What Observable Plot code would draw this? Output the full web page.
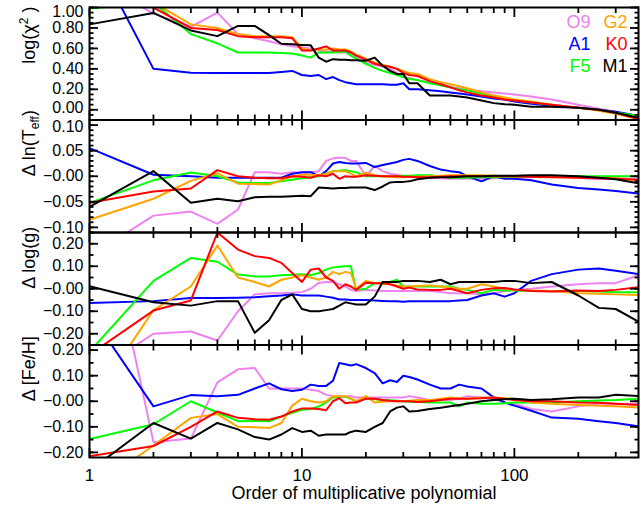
<!DOCTYPE html>
<html><head><meta charset="utf-8">
<script src="https://cdn.jsdelivr.net/npm/d3@7"></script>
<script src="https://cdn.jsdelivr.net/npm/@observablehq/plot@0.6"></script>
<style>
body{margin:0;background:#fff;}
#chart{position:relative;width:643px;height:510px;}
#chart svg{position:absolute;left:0;top:0;}
</style></head><body><div id="chart"></div>
<script>
// Polynomial orders (x)
const orders = [1,2,3,4,5,6,7,8,9,10,11,12,13,14,15,16,17,18,20,22,24,26,28,30,32,35,40,45,50,55,60,70,80,90,100,120,150,200,250,300,384];
const stars = ["O9","A1","F5","G2","K0","M1"];
const starColors = ["#ee82ee","#0000ff","#00ff00","#ffa500","#ff0000","#000000"];

// Panel 1: log(chi^2)
const chiO9 = [1.30,0.94,0.81,0.95,0.74,0.70,0.67,0.64,0.62,0.61,0.60,0.58,0.57,0.57,0.56,0.56,0.54,0.51,0.46,0.44,0.42,0.40,0.36,0.32,0.31,0.29,0.27,0.24,0.22,0.21,0.20,0.18,0.17,0.16,0.15,0.13,0.10,0.05,0.01,-0.02,-0.07];
const chiA1 = [1.60,0.40,0.363,0.36,0.36,0.36,0.36,0.37,0.38,0.34,0.33,0.34,0.30,0.32,0.29,0.27,0.26,0.25,0.25,0.25,0.25,0.245,0.245,0.26,0.20,0.20,0.19,0.18,0.17,0.16,0.15,0.13,0.11,0.10,0.08,0.06,0.04,0.02,0.0,-0.02,-0.06];
const chiF5 = [0.99,1.05,0.74,0.65,0.56,0.56,0.56,0.555,0.55,0.53,0.51,0.56,0.56,0.56,0.565,0.57,0.53,0.50,0.45,0.41,0.38,0.36,0.34,0.32,0.30,0.29,0.26,0.24,0.22,0.20,0.19,0.16,0.13,0.11,0.09,0.07,0.05,0.02,0.0,-0.03,-0.06];
const chiG2 = [1.30,1.05,0.835,0.80,0.74,0.72,0.72,0.72,0.71,0.60,0.58,0.59,0.59,0.60,0.59,0.59,0.57,0.54,0.50,0.46,0.44,0.42,0.40,0.38,0.36,0.35,0.30,0.27,0.25,0.23,0.21,0.17,0.14,0.12,0.10,0.08,0.05,0.02,-0.01,-0.04,-0.09];
const chiK0 = [1.20,1.00,0.80,0.78,0.72,0.71,0.71,0.71,0.70,0.58,0.58,0.60,0.62,0.58,0.58,0.58,0.56,0.53,0.49,0.45,0.43,0.42,0.40,0.36,0.34,0.33,0.28,0.25,0.22,0.19,0.17,0.14,0.12,0.10,0.09,0.07,0.05,0.02,0.0,-0.03,-0.09];
const chiM1 = [0.835,0.947,0.776,0.72,0.82,0.82,0.73,0.645,0.64,0.634,0.63,0.51,0.47,0.495,0.49,0.49,0.485,0.485,0.48,0.51,0.43,0.38,0.35,0.35,0.26,0.26,0.14,0.14,0.14,0.13,0.12,0.09,0.065,0.055,0.05,0.03,0.03,0.02,0.0,-0.03,-0.08];

// Panel 2: delta ln(Teff)
const teffO9 = [-0.157,-0.077,-0.069,-0.093,-0.065,0.008,0.008,0.005,0.008,0.007,0.008,0.01,0.03,0.035,0.036,0.036,0.03,0.03,0.0,0.02,0.01,0.005,0.003,0.0,-0.001,-0.002,-0.003,-0.004,-0.005,-0.005,-0.005,-0.005,-0.004,-0.003,-0.003,-0.002,0.0,-0.003,-0.006,-0.004,-0.006];
const teffA1 = [0.055,0.003,0.0,-0.003,-0.003,-0.003,-0.003,-0.003,0.005,0.008,0.008,0.0,0.01,0.025,0.028,0.026,0.025,0.025,0.026,0.018,0.022,0.025,0.028,0.032,0.034,0.03,0.02,0.013,0.01,0.008,0.0,-0.01,0.0,-0.005,-0.005,-0.008,-0.016,-0.023,-0.026,-0.029,-0.034];
const teffF5 = [-0.052,-0.008,0.0075,0.0,-0.012,-0.013,-0.013,-0.01,-0.007,-0.004,-0.002,0.0,0.005,0.01,0.011,0.012,0.01,0.008,0.0,0.0,0.0,0.0,0.0,0.001,0.001,0.002,0.002,0.0,-0.003,-0.003,-0.003,-0.002,-0.002,-0.001,-0.001,0.0,0.0,0.0,0.0,0.0,0.0];
const teffG2 = [-0.085,-0.044,-0.009,0.006,-0.0145,-0.015,-0.016,-0.008,0.0,0.003,0.003,0.002,0.005,0.01,0.01,0.01,0.005,0.0,0.007,0.002,0.0,-0.001,-0.002,-0.002,-0.001,-0.001,0.0,0.001,0.002,0.002,0.002,0.002,0.001,0.0,0.0,-0.001,-0.001,-0.002,-0.003,-0.004,-0.008];
const teffK0 = [-0.052,-0.03,-0.024,0.012,0.0,-0.003,-0.004,-0.004,0.0,-0.001,-0.003,0.002,0.0,0.005,-0.005,0.0,-0.001,-0.001,0.002,0.001,0.0,0.0,0.0,-0.001,-0.001,-0.002,-0.002,-0.001,0.0,0.0,0.0,0.0,0.0,0.0,0.0,-0.001,-0.002,-0.003,-0.004,-0.005,-0.007];
const teffM1 = [-0.06,0.01,-0.052,-0.044,-0.049,-0.041,-0.040,-0.040,-0.039,-0.038,-0.039,-0.022,-0.023,-0.024,-0.023,-0.023,-0.022,-0.022,-0.022,-0.027,-0.02,-0.012,-0.011,-0.011,-0.01,-0.006,-0.003,-0.002,-0.002,-0.001,0.0,0.0,0.001,0.001,0.001,0.002,0.002,0.0,-0.003,-0.006,-0.014];

// Panel 3: delta log(g)
const loggO9 = [-0.385,-0.20,-0.19,-0.23,-0.10,-0.025,-0.02,-0.02,-0.018,-0.015,0.0,0.026,0.03,0.03,0.02,0.01,-0.005,-0.01,-0.005,-0.008,-0.01,-0.01,-0.01,-0.01,-0.01,-0.01,-0.01,-0.015,-0.02,-0.02,-0.02,-0.025,-0.02,-0.01,-0.005,0.0,0.01,0.02,0.025,0.025,0.06];
const loggA1 = [-0.063,-0.055,-0.041,-0.041,-0.04,-0.038,-0.033,-0.03,-0.025,-0.03,-0.03,-0.03,-0.035,-0.04,-0.048,-0.048,-0.05,-0.05,-0.05,-0.052,-0.054,-0.056,-0.056,-0.058,-0.056,-0.055,-0.055,-0.055,-0.055,-0.052,-0.05,-0.03,-0.02,-0.035,-0.02,0.035,0.065,0.085,0.09,0.08,0.065];
const loggF5 = [-0.28,0.035,0.137,0.12,0.063,0.055,0.055,0.06,0.062,0.065,0.06,0.07,0.085,0.095,0.098,0.1,0.1,-0.005,0.0,0.025,0.028,0.03,0.04,0.01,0.01,0.01,0.01,0.01,0.01,0.0,-0.005,-0.02,-0.005,-0.008,-0.008,-0.01,-0.01,-0.01,-0.012,-0.015,-0.015];
const loggG2 = [-0.52,-0.095,0.01,0.192,0.05,0.03,0.01,0.04,0.05,0.06,0.05,0.04,0.05,0.075,0.065,0.075,0.07,0.0,0.035,0.025,0.02,0.02,0.015,0.01,0.01,0.012,0.015,0.01,0.005,0.0,0.0,0.02,0.01,0.0,-0.005,-0.008,-0.01,-0.02,-0.022,-0.025,-0.028];
const loggK0 = [-0.293,-0.097,-0.052,0.25,0.174,0.145,0.137,0.115,0.07,0.03,0.085,0.09,0.05,0.035,0.0,0.02,0.01,-0.005,0.027,0.025,0.025,0.02,0.01,0.0,0.005,-0.003,-0.005,-0.005,0.0,-0.01,-0.02,-0.005,0.002,0.003,-0.003,-0.01,-0.012,-0.008,-0.01,-0.005,0.007];
const loggM1 = [0.011,-0.06,-0.075,-0.055,-0.055,-0.196,-0.14,-0.05,-0.025,-0.09,-0.1,-0.1,-0.095,-0.09,-0.075,-0.06,-0.065,-0.07,-0.07,-0.035,0.03,0.03,0.03,0.035,0.035,0.035,0.03,0.04,0.02,0.03,0.03,0.03,0.03,0.035,0.035,0.025,0.03,-0.03,-0.085,-0.09,-0.146];

// Panel 4: delta [Fe/H]
const fehO9 = [1.0,-0.16,-0.146,0.074,0.125,0.13,0.05,0.05,0.05,0.05,0.045,0.04,0.025,0.02,0.02,0.02,0.02,0.015,0.015,0.015,0.015,0.015,0.015,0.015,0.02,0.015,0.005,0.005,0.005,0.01,0.02,0.015,0.01,-0.005,-0.01,-0.03,-0.04,-0.02,-0.01,-0.01,-0.01];
const fehA1 = [0.347,-0.02,0.024,0.02,0.025,0.05,0.07,0.047,0.04,0.045,0.065,0.06,0.06,0.08,0.15,0.145,0.14,0.145,0.13,0.11,0.07,0.082,0.075,0.1,0.095,0.085,0.065,0.05,0.05,0.065,0.058,0.05,0.015,-0.005,-0.017,-0.037,-0.064,-0.068,-0.078,-0.085,-0.098];
const fehF5 = [-0.148,-0.09,0.0,-0.044,-0.078,-0.077,-0.078,-0.06,-0.045,-0.033,-0.03,-0.02,-0.005,0.015,0.018,0.018,0.01,0.0,0.01,0.008,0.005,0.004,0.002,0.0,-0.002,-0.003,-0.005,-0.005,-0.005,-0.02,-0.005,-0.01,-0.01,-0.008,-0.005,-0.005,-0.005,0.0,0.003,0.005,0.01];
const fehG2 = [-0.35,-0.173,-0.065,-0.05,-0.10,-0.102,-0.105,-0.085,-0.017,0.01,0.0,-0.005,0.0,0.02,0.02,0.02,0.01,0.0,0.02,-0.005,-0.002,0.0,0.0,0.0,0.002,0.005,0.005,0.01,0.015,0.012,0.01,0.015,0.015,0.012,0.01,-0.005,-0.01,-0.015,-0.018,-0.02,-0.025];
const fehK0 = [-0.215,-0.175,-0.10,-0.04,-0.065,-0.07,-0.072,-0.06,-0.04,-0.028,-0.028,-0.03,-0.035,0.0,0.012,-0.008,-0.005,-0.005,0.01,0.01,0.005,0.002,0.0,0.0,0.0,-0.003,0.0,0.005,0.01,0.01,0.01,0.012,0.015,0.01,0.005,0.0,0.0,-0.005,-0.006,-0.01,-0.015];
const fehM1 = [-0.272,-0.085,-0.146,-0.085,-0.11,-0.14,-0.15,-0.13,-0.105,-0.12,-0.115,-0.135,-0.13,-0.13,-0.13,-0.13,-0.12,-0.115,-0.12,-0.10,-0.085,-0.04,-0.025,-0.02,-0.04,-0.038,-0.03,-0.025,-0.02,-0.015,-0.01,0.0,0.005,0.008,0.01,0.005,0.008,0.015,0.015,0.025,0.02];

// Tick values and labels
const xMajor = [1,10,100];
const xMinor = [2,3,4,5,6,7,8,9,20,30,40,50,60,70,80,90,200,300];
const xTickLabels = ["1","10","100"];
const chiTicks = [0,0.2,0.4,0.6,0.8,1.0];
const chiTickLabels = ["0.00","0.20","0.40","0.60","0.80","1.00"];
const teffTicks = [-0.10,-0.05,0,0.05,0.10];
const teffTickLabels = ["\u22120.10","\u22120.05","\u22120.00","0.05","0.10"];
const loggTicks = [-0.2,-0.1,0,0.1,0.2];
const loggTickLabels = ["\u22120.20","\u22120.10","\u22120.00","0.10","0.20"];
const fehTicks = [-0.2,-0.1,0,0.1,0.2];
const fehTickLabels = ["\u22120.20","\u22120.10","\u22120.00","0.10","0.20"];
const legendNames = ["O9","G2","A1","K0","F5","M1"];
const legendColors = ["#ee82ee","#ffa500","#0000ff","#ff0000","#00ff00","#000000"];

const W = 643, H = 510, FRAME_L = 89, FRAME_R = 638, TOP = 7, PANEL_H = 112.5;
const FONT = "'Liberation Sans', Arial, Helvetica, sans-serif";
const TICK_FONT = 16;

const panels = [
  {label: "log(\u03c7\u00b2 )", domain: [-0.1, 1.0], series: [chiO9,chiA1,chiF5,chiG2,chiK0,chiM1], ticks: chiTicks, tickLabels: chiTickLabels, minor: d3.range(-0.1, 1.0001, 0.05), firstDy: -1.5, lastDy: 4},
  {label: "\u0394 ln(Teff)", domain: [-0.11, 0.11], series: [teffO9,teffA1,teffF5,teffG2,teffK0,teffM1], ticks: teffTicks, tickLabels: teffTickLabels, minor: d3.range(-0.11, 0.1101, 0.01), firstDy: 0, lastDy: 1.5},
  {label: "\u0394 log(g)", domain: [-0.25, 0.25], series: [loggO9,loggA1,loggF5,loggG2,loggK0,loggM1], ticks: loggTicks, tickLabels: loggTickLabels, minor: d3.range(-0.25, 0.2501, 0.05), firstDy: 0, lastDy: 0},
  {label: "\u0394 [Fe/H]", domain: [-0.22, 0.22], series: [fehO9,fehA1,fehF5,fehG2,fehK0,fehM1], ticks: fehTicks, tickLabels: fehTickLabels, minor: d3.range(-0.2, 0.2001, 0.05), firstDy: 0, lastDy: 0}
];

const chart = document.getElementById("chart");

panels.forEach((p, pi) => {
  const top = TOP + PANEL_H * pi;
  const bottom = top + PANEL_H;
  const rows = [];
  p.series.forEach((vals, si) => vals.forEach((v, i) => rows.push({order: orders[i], value: v, star: stars[si]})));
  const labelMap = new Map(p.ticks.map((t, i) => [t, p.tickLabels[i]]));
  const blank = () => "";
  const n = p.ticks.length;
  const labelAxis = (ticks, dy) => Plot.axisY({anchor: "left", ticks, tickSize: 0, tickPadding: 6, dy, tickFormat: d => labelMap.get(d), fontSize: TICK_FONT, label: null});
  const marks = [
    Plot.line(rows, {x: "order", y: "value", z: "star", stroke: "star", strokeWidth: 2, clip: true}),
    Plot.frame({stroke: "#000", strokeWidth: 2}),
    Plot.axisX({anchor: "bottom", ticks: xMajor, tickSize: -9, tickFormat: blank, strokeWidth: 1.8, label: null}),
    Plot.axisX({anchor: "bottom", ticks: xMinor, tickSize: -5, tickFormat: blank, strokeWidth: 1.8, label: null}),
    Plot.axisX({anchor: "top", ticks: xMajor, tickSize: -9, tickFormat: blank, strokeWidth: 1.8, label: null}),
    Plot.axisX({anchor: "top", ticks: xMinor, tickSize: -5, tickFormat: blank, strokeWidth: 1.8, label: null}),
    Plot.axisY({anchor: "left", ticks: p.ticks, tickSize: -9, tickFormat: blank, strokeWidth: 1.8, label: null}),
    Plot.axisY({anchor: "left", ticks: p.minor, tickSize: -4.5, tickFormat: blank, strokeWidth: 1.8, label: null}),
    Plot.axisY({anchor: "right", ticks: p.ticks, tickSize: -9, tickFormat: blank, strokeWidth: 1.8, label: null}),
    Plot.axisY({anchor: "right", ticks: p.minor, tickSize: -4.5, tickFormat: blank, strokeWidth: 1.8, label: null}),
    labelAxis(p.ticks.slice(1, n - 1), 0),
    labelAxis([p.ticks[0]], p.firstDy),
    labelAxis([p.ticks[n - 1]], p.lastDy),
    Plot.text([p.label], {frameAnchor: "left", dx: -60, rotate: -90, text: d => d, fontSize: 18, fill: "#000"})
  ];
  if (pi === 0) {
    legendNames.forEach((name, i) => {
      marks.push(Plot.text([name], {
        frameAnchor: "top-right", text: d => d, fill: legendColors[i],
        dx: i % 2 === 0 ? -48 : -11,
        dy: 15 + 22 * Math.floor(i / 2),
        textAnchor: "end", lineAnchor: "middle", fontSize: 18
      }));
    });
  }
  if (pi === panels.length - 1) {
    const xl = new Map(xMajor.map((t, i) => [t, xTickLabels[i]]));
    marks.push(Plot.axisX({anchor: "bottom", ticks: xMajor, tickSize: 0, tickPadding: 11, tickFormat: d => xl.get(d), fontSize: 17, label: null}));
    marks.push(Plot.text(["Order of multiplicative polynomial"], {frameAnchor: "bottom", dy: 36, text: d => d, fontSize: 18, fill: "#000", lineAnchor: "middle"}));
  }
  const svg = Plot.plot({
    width: W, height: H,
    marginLeft: FRAME_L, marginRight: W - FRAME_R, marginTop: top, marginBottom: H - bottom,
    x: {type: "log", domain: [1, 384]},
    y: {domain: p.domain},
    color: {domain: stars, range: starColors},
    style: {fontFamily: FONT, background: "transparent", color: "#000", overflow: "visible"},
    marks
  });
  chart.appendChild(svg);
  // subscript / superscript in labels
  d3.select(svg).selectAll("text").each(function() {
    const t = this.textContent;
    if (t === "\u0394 ln(Teff)") {
      const s = d3.select(this); s.text("");
      s.append("tspan").text("\u0394 ln(T");
      s.append("tspan").attr("font-size", 12).attr("dy", 4).text("eff");
      s.append("tspan").attr("dy", -4).text(")");
    } else if (t === "log(\u03c7\u00b2 )") {
      const s = d3.select(this); s.text("");
      s.append("tspan").text("log(\u03c7");
      s.append("tspan").attr("font-size", 12).attr("dy", -7).text("2");
      s.append("tspan").attr("dy", 7).text(" )");
    }
  });
});
</script></body></html>
